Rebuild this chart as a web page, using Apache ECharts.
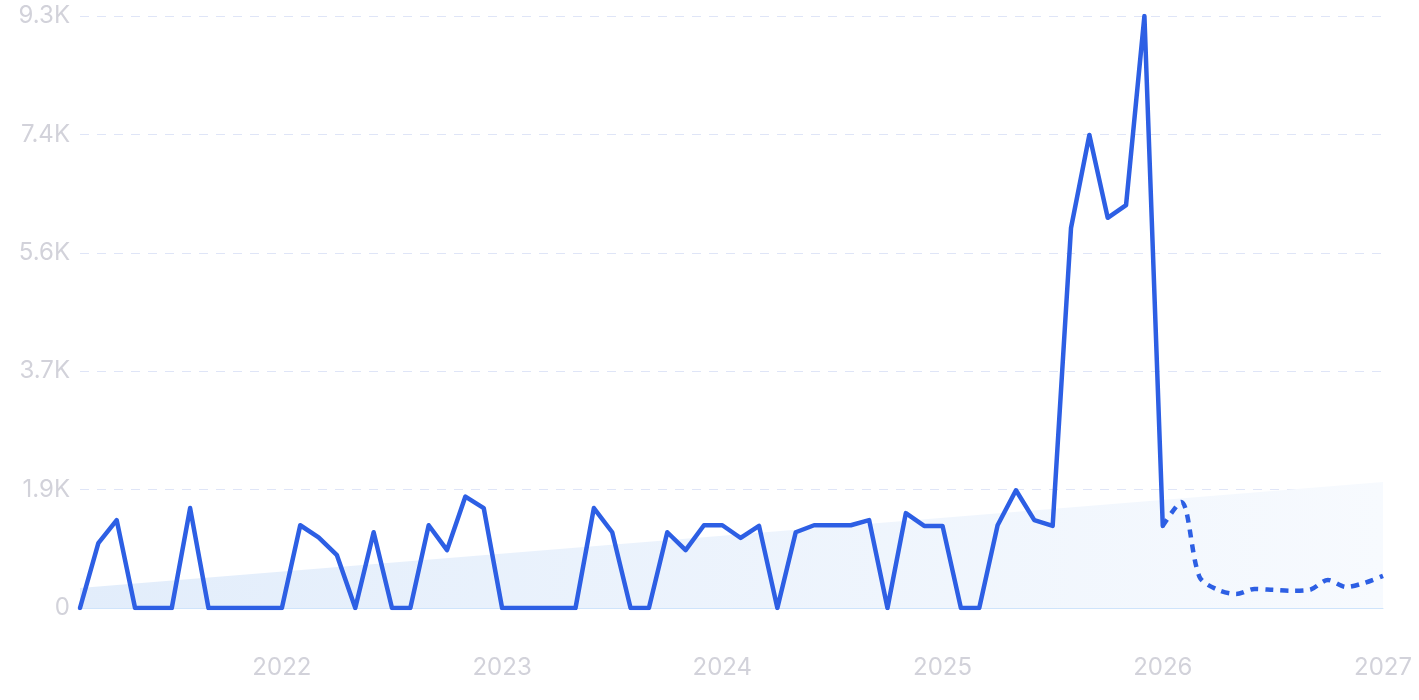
<!DOCTYPE html>
<html>
<head>
<meta charset="utf-8">
<script src="https://cdn.jsdelivr.net/npm/echarts@6/dist/echarts.min.js"></script>
<style>
  html, body { margin: 0; padding: 0; background: #fff; }
  #chart { width: 1419px; height: 700px; }
</style>
</head>
<body>
<div id="chart"></div>
<script>
// monthly categories, Feb 2021 .. Jan 2027
const months = [
  '2021-02','2021-03','2021-04','2021-05','2021-06','2021-07','2021-08','2021-09','2021-10','2021-11','2021-12',
  '2022-01','2022-02','2022-03','2022-04','2022-05','2022-06','2022-07','2022-08','2022-09','2022-10','2022-11','2022-12',
  '2023-01','2023-02','2023-03','2023-04','2023-05','2023-06','2023-07','2023-08','2023-09','2023-10','2023-11','2023-12',
  '2024-01','2024-02','2024-03','2024-04','2024-05','2024-06','2024-07','2024-08','2024-09','2024-10','2024-11','2024-12',
  '2025-01','2025-02','2025-03','2025-04','2025-05','2025-06','2025-07','2025-08','2025-09','2025-10','2025-11','2025-12',
  '2026-01','2026-02','2026-03','2026-04','2026-05','2026-06','2026-07','2026-08','2026-09','2026-10','2026-11','2026-12',
  '2027-01'
];

// observed volume (Feb 2021 .. Jan 2026)
const actual = [
  0, 1020, 1380, 0, 0, 0, 1570, 0, 0, 0, 0,
  0, 1300, 1110, 830, 0, 1190, 0, 0, 1300, 910, 1750, 1570,
  0, 0, 0, 0, 0, 1570, 1190, 0, 0, 1190, 910, 1300,
  1300, 1100, 1290, 0, 1190, 1300, 1300, 1300, 1380, 0, 1490, 1290,
  1290, 0, 0, 1300, 1850, 1380, 1290, 5970, 7430, 6130, 6330, 9300,
  1290
];

// forecast (Jan 2026 .. Jan 2027)
const forecast = [1290, 1665, 490, 285, 220, 300, 285, 270, 285, 440, 330, 395, 505];

// trend line end values (first and last month)
const trendStart = 314;
const trendEnd = 1979;

const yTicks = { min: 0, max: 9300, step: 1860 };

const lineColor = '#2d5fe4';
const labelColor = '#d2d2da';

const actualData = months.map((m, i) => i < actual.length ? actual[i] : null);
const forecastStart = actual.length - 1;
const forecastData = months.map((m, i) => i >= forecastStart ? forecast[i - forecastStart] : null);
const trendData = months.map((m, i) => i === 0 ? trendStart : (i === months.length - 1 ? trendEnd : null));

const chart = echarts.init(document.getElementById('chart'));
chart.setOption({
  animation: false,
  grid: { left: 80, right: 36, top: 16, bottom: 92 },
  xAxis: {
    type: 'category',
    data: months,
    boundaryGap: false,
    axisLine: { show: true, lineStyle: { color: '#cfe4fb', width: 1 } },
    axisTick: { show: false },
    splitLine: { show: false },
    axisLabel: {
      color: labelColor,
      fontFamily: 'Inter',
      fontSize: 24,
      margin: 48,
      interval: (idx, val) => val.slice(5) === '01',
      formatter: val => val.slice(0, 4)
    }
  },
  yAxis: {
    type: 'value',
    min: yTicks.min,
    max: yTicks.max,
    interval: yTicks.step,
    axisLine: { show: false },
    axisTick: { show: false },
    axisLabel: {
      color: labelColor,
      fontFamily: 'Inter',
      fontSize: 24,
      margin: 10,
      formatter: v => v === 0 ? '0' : (v / 1000).toFixed(1) + 'K'
    },
    splitLine: {
      lineStyle: { color: '#dfe5f7', type: [9, 8], width: 1 }
    }
  },
  series: [
    {
      name: 'trend',
      type: 'line',
      data: trendData,
      connectNulls: true,
      showSymbol: false,
      lineStyle: { width: 0 },
      areaStyle: {
        color: {
          type: 'linear', x: 0, y: 0, x2: 1, y2: 0,
          colorStops: [
            { offset: 0, color: '#e2edfb' },
            { offset: 1, color: '#f7fafe' }
          ]
        },
        opacity: 1
      },
      z: 1
    },
    {
      name: 'actual',
      type: 'line',
      data: actualData,
      showSymbol: false,
      lineStyle: { color: lineColor, width: 4.5, join: 'round', cap: 'round' },
      z: 3
    },
    {
      name: 'forecast',
      type: 'line',
      data: forecastData,
      showSymbol: false,
      smooth: 0.3,
      lineStyle: { color: lineColor, width: 4.5, type: [8, 7] },
      z: 3
    }
  ]
});
</script>
</body>
</html>
